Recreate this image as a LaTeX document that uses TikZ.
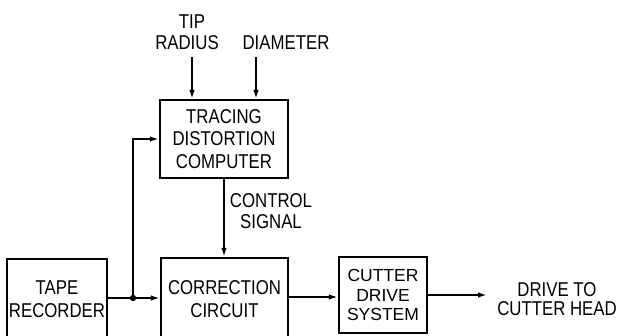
\documentclass[tikz,border=0pt]{standalone}
\usepackage{fontspec}
\setmainfont{Liberation Sans}[FakeStretch=0.84]
\newfontfamily\widefont{Liberation Sans}[FakeStretch=1.0]
\usetikzlibrary{arrows.meta}
\begin{document}
\begin{tikzpicture}[x=1pt,y=-1pt, line width=2.1pt,
  box/.style={draw, rectangle, align=center, inner sep=0pt, font=\fontsize{20}{22.5}\selectfont},
  lbl/.style={align=center, inner sep=0pt, font=\fontsize{20}{21}\selectfont},
  arr/.style={-{Latex[length=9pt,width=5.5pt]}}]
\useasboundingbox (0,0) rectangle (624,335);
\clip (0,0) rectangle (624,335);
% boxes
\node[box, minimum width=128pt, minimum height=78pt] (tdc) at (224,139) {TRACING\\DISTORTION\\COMPUTER};
\node[box, minimum width=100pt, minimum height=80pt] (tape) at (57,299) {TAPE\\RECORDER};
\node[box, minimum width=127pt, minimum height=82pt] (corr) at (224.5,299) {CORRECTION\\CIRCUIT};
\node[box, minimum width=88pt, minimum height=76pt, font=\widefont\fontsize{17.5}{19.6}\selectfont] (cut) at (383,295) {CUTTER\\DRIVE\\SYSTEM};
% labels
\node[lbl] (tip) at (192,22) {TIP};
\node[lbl] (rad) at (187,43) {RADIUS};
\node[lbl] (dia) at (286,43) {DIAMETER};
\node[lbl] (cs) at (271,211.5) {CONTROL\\SIGNAL};
\node[lbl, font=\fontsize{20}{18.5}\selectfont] (dth) at (557,299) {DRIVE TO\\CUTTER HEAD};
% connectors
\coordinate (a1) at (192,57);
\coordinate (a2) at (256,57);
\draw[arr] (a1) -- (a1 |- tdc.north);
\draw[arr] (a2) -- (a2 |- tdc.north);
\draw[arr] (tdc.south) -- (tdc.south |- corr.north);
\coordinate (j) at (133,298);
\draw[arr] (tape.east |- j) -- (corr.west |- j);
\fill (j) circle (3.2pt);
\draw[arr] (j) |- (tdc.west);
\coordinate (m) at (300,297);
\draw[arr] (corr.east |- m) -- (cut.west |- m);
\coordinate (out) at (487,295);
\draw[arr] (cut.east |- out) -- (out);
\end{tikzpicture}
\end{document}
